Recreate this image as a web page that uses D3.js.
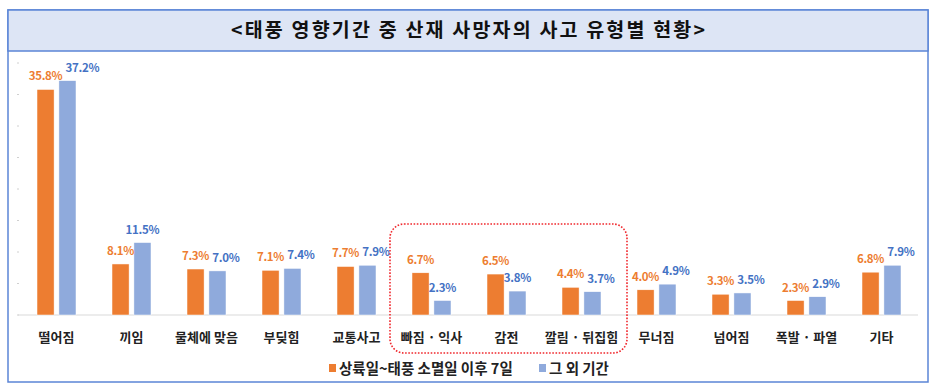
<!doctype html>
<html>
<head>
<meta charset="utf-8" />
<title>태풍 영향기간 중 산재 사망자의 사고 유형별 현황</title>
<script src="https://cdn.jsdelivr.net/npm/d3@7"></script>
<style>
  body { margin: 0; background: #fff; }
  text { font-family: "Noto Sans CJK KR", "Noto Sans", sans-serif; }
</style>
</head>
<body>
<script>
 // data
 var categories = ["떨어짐", "끼임", "물체에 맞음", "부딪힘", "교통사고", "빠짐 · 익사",
                   "감전", "깔림 · 뒤집힘", "무너짐", "넘어짐", "폭발 · 파열", "기타"];
 var seriesNames = ["상륙일~태풍 소멸일 이후 7일", "그 외 기간"];
 var typhoonPeriod = [35.8, 8.1, 7.3, 7.1, 7.7, 6.7, 6.5, 4.4, 4.0, 3.3, 2.3, 6.8];
 var otherPeriod   = [37.2, 11.5, 7.0, 7.4, 7.9, 2.3, 3.8, 3.7, 4.9, 3.5, 2.9, 7.9];
 var yTicks = [0, 5, 10, 15, 20, 25, 30, 35, 40];
 var highlighted = ["빠짐 · 익사", "감전", "깔림 · 뒤집힘"];

 var w = 937, h = 389;
 var barColors = ["#ED7D31", "#8FAADC"];
 var labelColors = ["#ED7D31", "#4472C4"];

 var svg = d3.select("body").append("svg")
     .attr("width", w)
     .attr("height", h);

 // frame + title band
 svg.append("rect")
    .attr("x", 8).attr("y", 10)
    .attr("width", 920).attr("height", 372)
    .attr("fill", "#fff")
    .attr("stroke", "#5B85D6")
    .attr("stroke-width", 1.5);
 svg.append("rect")
    .attr("x", 8).attr("y", 10)
    .attr("width", 920).attr("height", 41)
    .attr("fill", "#DDE5F5")
    .attr("stroke", "#5B85D6")
    .attr("stroke-width", 1.5);
 svg.append("text")
    .attr("x", 468).attr("y", 37)
    .attr("text-anchor", "middle")
    .attr("font-size", "19.5px")
    .attr("font-weight", "bold")
    .attr("fill", "#111")
    .attr("textLength", 474)
    .attr("lengthAdjust", "spacing")
    .text("<태풍 영향기간 중 산재 사망자의 사고 유형별 현황>");

 var data = categories.map(function(c, i){
     return {cat: c, vals: [typhoonPeriod[i], otherPeriod[i]]};
 });

 var x0 = d3.scaleBand()
     .domain(categories)
     .range([19, 919]);
 var half = x0.bandwidth() / 2;
 var x1 = d3.scaleBand()
     .domain([0, 1])
     .range([half - 19.5, half + 19.5])
     .paddingInner(0.22);
 var y = d3.scaleLinear()
     .domain([0, 40])
     .range([315, 63]);

 // little tick marks on the hidden value axis
 svg.selectAll(".ytick")
    .data(yTicks)
    .enter()
    .append("line")
    .attr("class", "ytick")
    .attr("x1", 17).attr("x2", 19)
    .attr("y1", function(d){ return y(d); })
    .attr("y2", function(d){ return y(d); })
    .attr("stroke", "#d0d0d0");

 // baseline
 svg.append("line")
    .attr("x1", 18).attr("x2", 918)
    .attr("y1", y(0)).attr("y2", y(0))
    .attr("stroke", "#d9d9d9")
    .attr("stroke-width", 1);

 var groups = svg.selectAll(".grp")
     .data(data)
     .enter()
     .append("g")
     .attr("class", "grp")
     .attr("transform", function(d){ return "translate(" + x0(d.cat) + ",0)"; });

 groups.selectAll("rect")
     .data(function(d){ return d.vals.map(function(v, k){ return {k: k, v: v}; }); })
     .enter()
     .append("rect")
     .attr("x", function(d){ return x1(d.k); })
     .attr("y", function(d){ return y(d.v); })
     .attr("width", x1.bandwidth())
     .attr("height", function(d){ return y(0) - y(d.v); })
     .attr("fill", function(d){ return barColors[d.k]; })
     .attr("stroke", "#fff")
     .attr("stroke-width", 0.5);

 groups.selectAll(".val")
     .data(function(d){ return d.vals.map(function(v, k){ return {k: k, v: v}; }); })
     .enter()
     .append("text")
     .attr("class", function(d){ return "val s" + d.k; })
     .attr("text-anchor", "middle")
     .attr("x", function(d){ return x1(d.k) + x1.bandwidth() / 2; })
     .attr("y", function(d){ return y(d.v) - 9; })
     .attr("font-size", "11.5px")
     .attr("font-weight", "bold")
     .attr("letter-spacing", "-0.3px")
     .attr("fill", function(d){ return labelColors[d.k]; })
     .text(function(d){ return d.v.toFixed(1) + "%"; });

 // push the second label right when it would run into the first one
 groups.each(function(){
     var g = d3.select(this);
     var a = g.select(".s0").node().getBBox();
     var bSel = g.select(".s1");
     var b = bSel.node().getBBox();
     var vOverlap = Math.min(a.y + a.height, b.y + b.height) - Math.max(a.y, b.y);
     if (vOverlap > 4 && b.x < a.x + a.width + 3) {
         var shift = a.x + a.width + 3 - b.x;
         bSel.attr("x", +bSel.attr("x") + shift);
     }
 });

 // category labels
 svg.selectAll(".cat")
    .data(categories)
    .enter()
    .append("text")
    .attr("class", "cat")
    .attr("x", function(d){ return x0(d) + half; })
    .attr("y", 342)
    .attr("text-anchor", "middle")
    .attr("font-size", "13px")
    .attr("font-weight", "bold")
    .attr("fill", "#222")
    .text(function(d){ return d; });

 // red dotted highlight around the selected categories
 var hx0 = x0(highlighted[0]) - 4;
 var hx1 = x0(highlighted[highlighted.length - 1]) + x0.bandwidth() + 8;
 svg.append("rect")
    .attr("x", hx0).attr("y", 224)
    .attr("width", hx1 - hx0).attr("height", 129)
    .attr("rx", 14).attr("ry", 14)
    .attr("fill", "none")
    .attr("stroke", "#F0282D")
    .attr("stroke-width", 1.6)
    .attr("stroke-dasharray", "1.6,1.6");

 // legend
 var legend = svg.append("g").attr("transform", "translate(329,364)");
 var lx = [0, 210];
 seriesNames.forEach(function(name, k){
     legend.append("rect")
        .attr("x", lx[k]).attr("y", 0)
        .attr("width", 7).attr("height", 8)
        .attr("fill", barColors[k]);
     legend.append("text")
        .attr("x", lx[k] + 10).attr("y", 10)
        .attr("font-size", "14.5px")
        .attr("font-weight", "bold")
        .attr("fill", "#222")
        .text(name);
 });
</script>
</body>
</html>
